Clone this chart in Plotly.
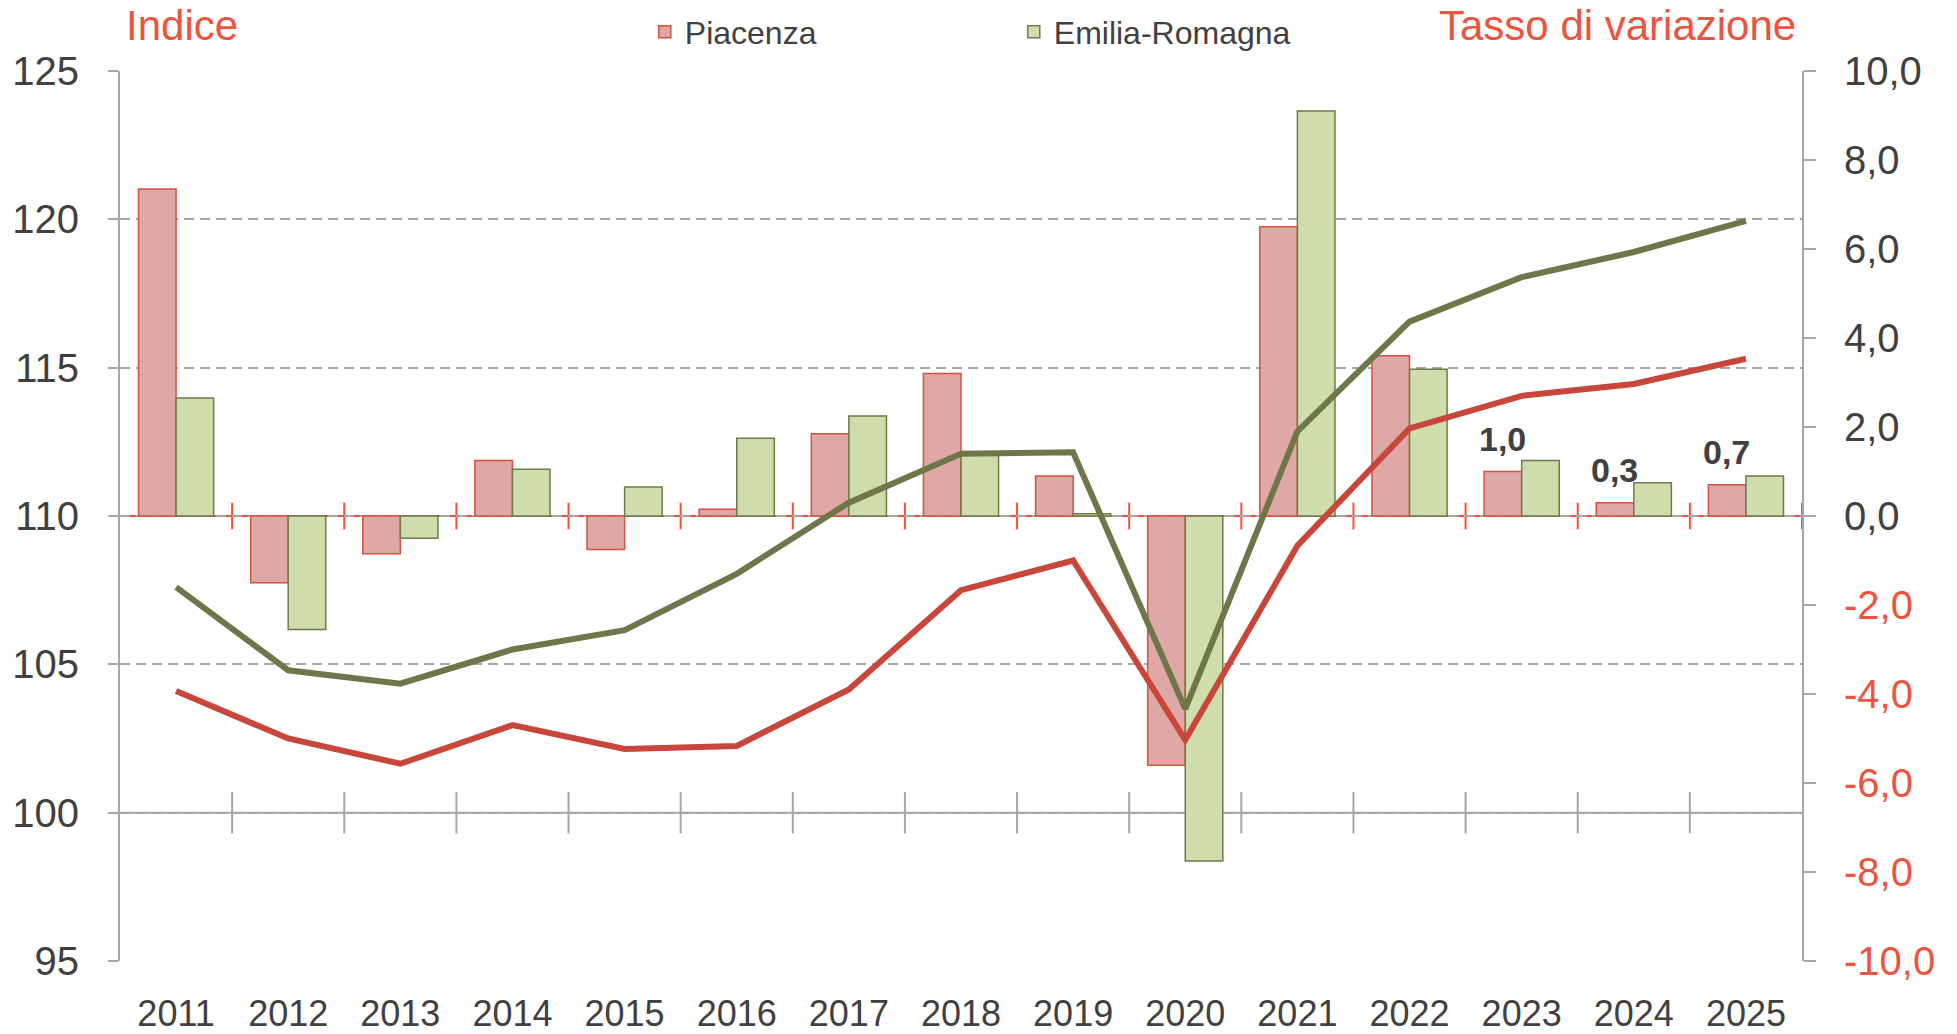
import plotly.graph_objects as go

years = [str(y) for y in range(2011, 2026)]

# Tassi di variazione (asse destro, barre)
piacenza_var = [7.35, -1.5, -0.85, 1.25, -0.75, 0.15, 1.85, 3.2, 0.9, -5.6, 6.5, 3.6, 1.0, 0.3, 0.7]
er_var = [2.65, -2.55, -0.5, 1.05, 0.65, 1.75, 2.25, 1.4, 0.05, -7.75, 9.1, 3.3, 1.25, 0.75, 0.9]

# Indici (asse sinistro, linee)
piacenza_idx = [104.1, 102.5, 101.65, 102.95, 102.15, 102.25, 104.15, 107.5, 108.5, 102.45, 109.0, 112.95, 114.05, 114.45, 115.3]
er_idx = [107.6, 104.8, 104.35, 105.5, 106.15, 108.05, 110.45, 112.1, 112.15, 103.5, 112.85, 116.55, 118.05, 118.9, 119.95]

labelled_years = ["2023", "2024", "2025"]

left_ticks = [95, 100, 105, 110, 115, 120, 125]
right_ticks = [-10, -8, -6, -4, -2, 0, 2, 4, 6, 8, 10]

FONT = "Liberation Sans, Arial, sans-serif"
GREY_TXT = "#404040"
RED_TXT = "#EE5340"
AXIS_GREY = "#A6A6A6"

xpos = list(range(len(years)))


def fmt(v):
    return f"{v:.1f}".replace(".", ",")


right_ticktext = [
    f'<span style="color:{RED_TXT}">{fmt(v)}</span>' if v < 0 else fmt(v)
    for v in right_ticks
]

fig = go.Figure()

fig.add_trace(go.Bar(
    x=xpos, y=piacenza_var, name="Piacenza", yaxis="y",
    marker=dict(color="#DEA8A6", line=dict(color="#D4503F", width=1.5)),
))
fig.add_trace(go.Bar(
    x=xpos, y=er_var, name="Emilia-Romagna", yaxis="y",
    marker=dict(color="#CFDDAD", line=dict(color="#6E7A4A", width=1.5)),
))
fig.add_trace(go.Scatter(
    x=xpos, y=er_idx, yaxis="y2", mode="lines", showlegend=False,
    line=dict(color="#6E764A", width=6),
))
fig.add_trace(go.Scatter(
    x=xpos, y=piacenza_idx, yaxis="y2", mode="lines", showlegend=False,
    line=dict(color="#C8473A", width=6),
))

shapes = []
n = len(years)
# red zero line of the growth-rate axis, with crossing ticks
shapes.append(dict(type="line", xref="paper", yref="y", x0=0, x1=1, y0=0, y1=0,
                   line=dict(color="#EE5340", width=2), layer="below"))
for i in range(n):
    shapes.append(dict(type="line", xref="x", yref="y", x0=i + 0.5, x1=i + 0.5,
                       y0=-0.3, y1=0.3, line=dict(color="#EE5340", width=2), layer="below"))
# grey line at 100 of the index axis, with crossing ticks
shapes.append(dict(type="line", xref="paper", yref="y2", x0=0, x1=1, y0=100, y1=100,
                   line=dict(color=AXIS_GREY, width=2), layer="below"))
for i in range(n - 1):
    shapes.append(dict(type="line", xref="x", yref="y2", x0=i + 0.5, x1=i + 0.5,
                       y0=99.3, y1=100.7, line=dict(color=AXIS_GREY, width=2), layer="below"))

annotations = []
for yr in labelled_years:
    k = years.index(yr)
    annotations.append(dict(
        x=xpos[k], y=piacenza_var[k], xref="x", yref="y", text=f"<b>{fmt(piacenza_var[k])}</b>",
        showarrow=False, xshift=-19, yanchor="bottom", yshift=12,
        font=dict(family=FONT, size=34, color=GREY_TXT),
    ))
annotations.append(dict(x=0, y=1, xref="paper", yref="paper", text="Indice", showarrow=False,
                        xanchor="left", yanchor="middle", xshift=4, yshift=46,
                        font=dict(family=FONT, size=42, color=RED_TXT)))
annotations.append(dict(x=1, y=1, xref="paper", yref="paper", text="Tasso di variazione",
                        showarrow=False, xanchor="right", yanchor="middle", xshift=-4, yshift=46,
                        font=dict(family=FONT, size=42, color=RED_TXT)))

fig.update_layout(
    width=1957, height=1034,
    margin=dict(l=120, r=155, t=71, b=73, autoexpand=False),
    paper_bgcolor="white", plot_bgcolor="white",
    font=dict(family=FONT, color=GREY_TXT),
    barmode="group", bargap=0.33, bargroupgap=0,
    shapes=shapes, annotations=annotations,
    legend=dict(orientation="h", x=0.312, y=1.044, xanchor="left", yanchor="middle",
                font=dict(family=FONT, size=32, color=GREY_TXT),
                entrywidth=324, bgcolor="rgba(0,0,0,0)", traceorder="normal"),
    xaxis=dict(range=[-0.5, n - 0.5], tickvals=xpos, ticktext=years,
               showline=False, showgrid=False, ticks="", zeroline=False,
               tickfont=dict(family=FONT, size=36, color=GREY_TXT),
               ticklabelstandoff=28),
    yaxis=dict(side="right", range=[-10, 10], tickvals=right_ticks, ticktext=right_ticktext,
               showgrid=False, zeroline=False, showline=True, linecolor=AXIS_GREY, linewidth=2,
               ticks="outside", ticklen=12, tickcolor=AXIS_GREY, tickwidth=2,
               ticklabelstandoff=20,
               tickfont=dict(family=FONT, size=40, color=GREY_TXT)),
    yaxis2=dict(side="left", overlaying="y", range=[95, 125], tickvals=left_ticks,
                showgrid=True, gridcolor=AXIS_GREY, gridwidth=2, griddash="10px,6px",
                zeroline=False, showline=True, linecolor=AXIS_GREY, linewidth=2,
                ticks="outside", ticklen=10, tickcolor=AXIS_GREY, tickwidth=2,
                ticklabelstandoff=21,
                tickfont=dict(family=FONT, size=40, color=GREY_TXT)),
)

fig.write_html("out.html")
